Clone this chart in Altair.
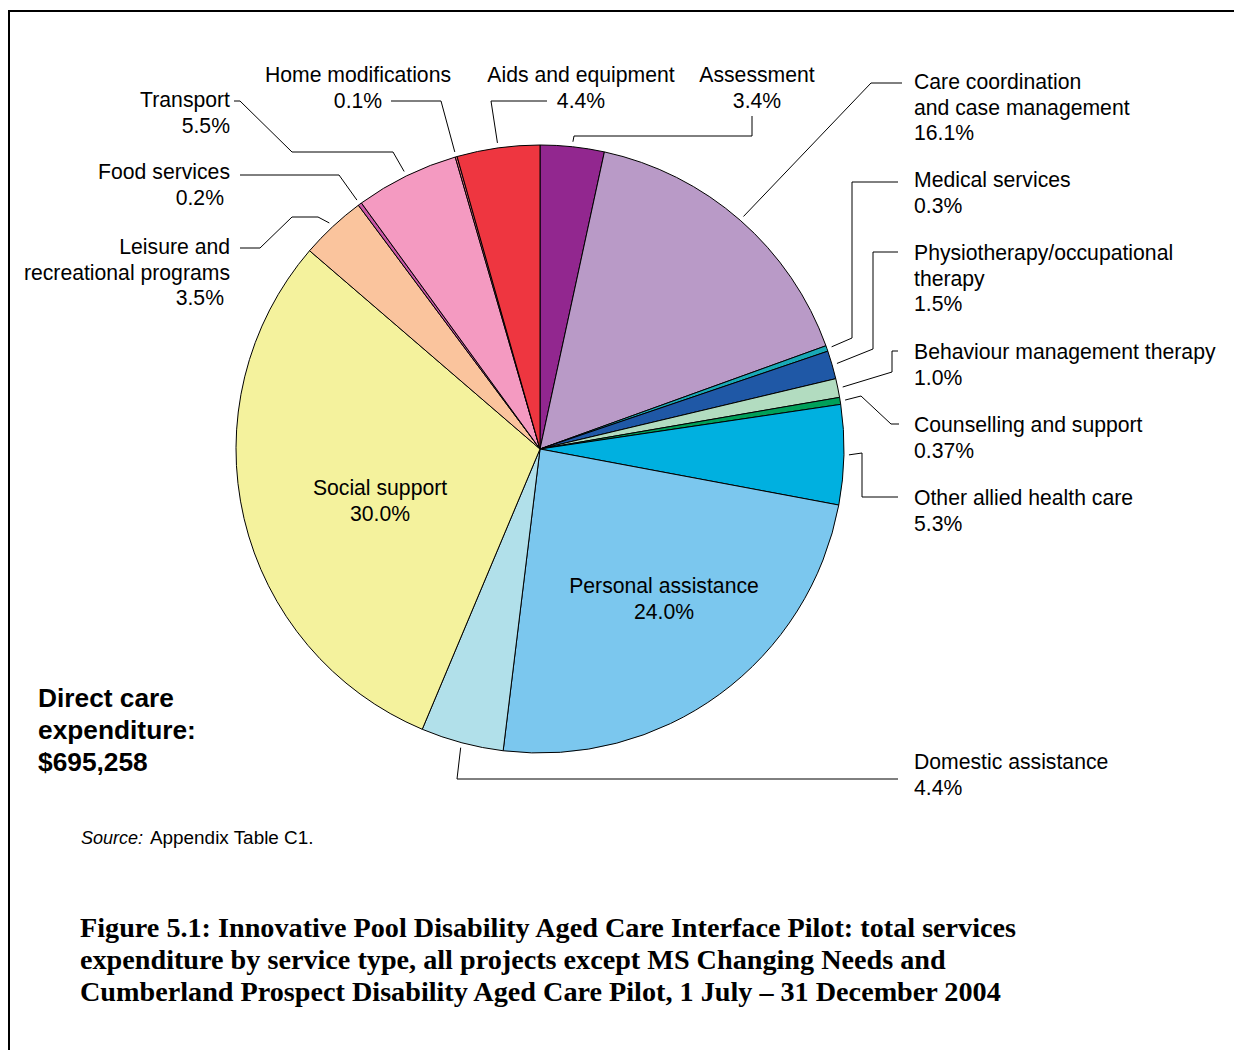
import math
import altair as alt
import pandas as pd

# ---------------- data ----------------
categories = [
    "Assessment",
    "Care coordination and case management",
    "Medical services",
    "Physiotherapy/occupational therapy",
    "Behaviour management therapy",
    "Counselling and support",
    "Other allied health care",
    "Personal assistance",
    "Domestic assistance",
    "Social support",
    "Leisure and recreational programs",
    "Food services",
    "Transport",
    "Home modifications",
    "Aids and equipment",
]
shares = [3.4, 16.1, 0.3, 1.5, 1.0, 0.37, 5.3, 24.0, 4.4, 30.0, 3.5, 0.2, 5.5, 0.1, 4.4]
share_labels = ["3.4%", "16.1%", "0.3%", "1.5%", "1.0%", "0.37%", "5.3%", "24.0%",
                "4.4%", "30.0%", "3.5%", "0.2%", "5.5%", "0.1%", "4.4%"]
colors = ["#92278F", "#B99AC7", "#19A9B6", "#1F58A6", "#B2DCC0", "#00A05A", "#00B0E0",
          "#7BC7EE", "#B1E0EA", "#F4F29D", "#FAC49D", "#C855A5", "#F49AC1", "#F06A80", "#EE3640"]

total_text = ["Direct care", "expenditure:", "$695,258"]
source_italic = "Source:"
source_text = "Appendix Table C1."
caption_lines = [
    "Figure 5.1: Innovative Pool Disability Aged Care Interface Pilot: total services",
    "expenditure by service type, all projects except MS Changing Needs and",
    "Cumberland Prospect Disability Aged Care Pilot, 1 July \u2013 31 December 2004",
]

# ---------------- layout ----------------
W, H = 1234, 1050
CX, CY, R = 540, 449, 304
LEADER_R = 309
FONT = "Liberation Sans"
FS = 21.2
LH = 25.5

# label layout: category -> (name lines, x, first baseline, align, pct x offset)
label_layout = {
    "Assessment": (["Assessment"], 757, 82, "center", 0),
    "Care coordination and case management": (["Care coordination", "and case management"], 914, 89, "left", 0),
    "Medical services": (["Medical services"], 914, 187, "left", 0),
    "Physiotherapy/occupational therapy": (["Physiotherapy/occupational", "therapy"], 914, 260, "left", 0),
    "Behaviour management therapy": (["Behaviour management therapy"], 914, 359, "left", 0),
    "Counselling and support": (["Counselling and support"], 914, 432, "left", 0),
    "Other allied health care": (["Other allied health care"], 914, 505, "left", 0),
    "Personal assistance": (["Personal assistance"], 664, 593, "center", 0),
    "Domestic assistance": (["Domestic assistance"], 914, 769, "left", 0),
    "Social support": (["Social support"], 380, 495, "center", 0),
    "Leisure and recreational programs": (["Leisure and", "recreational programs"], 230, 254, "right", -6),
    "Food services": (["Food services"], 230, 179, "right", -6),
    "Transport": (["Transport"], 230, 107, "right", 0),
    "Home modifications": (["Home modifications"], 358, 82, "center", 0),
    "Aids and equipment": (["Aids and equipment"], 581, 82, "center", 0),
}

# leader elbows (label end first); the pie end is computed from the slice angle
leader_layout = {
    "Assessment": [(752, 116), (752, 136), (574, 136)],
    "Care coordination and case management": [(902, 83), (871, 83)],
    "Medical services": [(898, 182), (852, 182), (852, 338)],
    "Physiotherapy/occupational therapy": [(898, 252), (873, 252), (873, 349)],
    "Behaviour management therapy": [(898, 351), (892, 351), (892, 372)],
    "Counselling and support": [(899, 424), (891, 424), (861, 396)],
    "Other allied health care": [(898, 497), (862, 497), (862, 453)],
    "Domestic assistance": [(898, 779), (457, 779)],
    "Leisure and recreational programs": [(240, 248), (260, 248), (292, 217), (318, 217)],
    "Food services": [(240, 175), (339, 175)],
    "Transport": [(234, 101), (240, 101), (292, 152), (393, 152)],
    "Home modifications": [(391, 101), (441, 101)],
    "Aids and equipment": [(547, 101), (491, 101)],
}

# ---------------- tables ----------------
total = sum(shares)
mid_angle = {}
cum = 0.0
for c, s in zip(categories, shares):
    mid_angle[c] = (cum + s / 2) / total * 2 * math.pi
    cum += s

pie_df = pd.DataFrame({"category": categories, "share": shares, "order": list(range(len(categories)))})

leader_rows = []
for c, pts in leader_layout.items():
    a = mid_angle[c]
    anchor = (CX + LEADER_R * math.sin(a), CY - LEADER_R * math.cos(a))
    for i, (x, y) in enumerate(pts + [anchor]):
        leader_rows.append({"key": c, "idx": i, "x": x, "y": y})
leader_df = pd.DataFrame(leader_rows)

text_rows = []
for c, lab in zip(categories, share_labels):
    lines, x, y0, align, pdx = label_layout[c]
    for i, ln in enumerate(lines):
        text_rows.append({"t": ln, "x": x, "y": y0 + i * LH, "align": align})
    text_rows.append({"t": lab, "x": x + pdx, "y": y0 + len(lines) * LH, "align": align})
text_df = pd.DataFrame(text_rows)

xs = alt.X("x:Q", scale=alt.Scale(domain=[0, W], nice=False, zero=False), axis=None)
ys = alt.Y("y:Q", scale=alt.Scale(domain=[0, H], nice=False, zero=False, reverse=True), axis=None)

pie = alt.Chart(pie_df).mark_arc(outerRadius=R, stroke="black", strokeWidth=1).encode(
    theta=alt.Theta("share:Q", stack=True),
    color=alt.Color("category:N", scale=alt.Scale(domain=categories, range=colors), legend=None),
    order=alt.Order("order:Q", sort="ascending"),
    x=alt.value(CX),
    y=alt.value(CY),
)

leaders = alt.Chart(leader_df).mark_line(color="black", strokeWidth=1).encode(
    x=xs, y=ys, detail="key:N", order="idx:Q"
)

text_layers = []
for al in ["left", "center", "right"]:
    sub = text_df[text_df["align"] == al]
    text_layers.append(
        alt.Chart(sub).mark_text(align=al, baseline="alphabetic", font=FONT, fontSize=FS, color="black")
        .encode(x=xs, y=ys, text="t:N")
    )

total_df = pd.DataFrame({"t": total_text, "x": [38] * 3, "y": [707, 739, 771]})
total_layer = alt.Chart(total_df).mark_text(
    align="left", baseline="alphabetic", font=FONT, fontSize=26.3, fontWeight="bold", color="black"
).encode(x=xs, y=ys, text="t:N")

src_i = alt.Chart(pd.DataFrame({"t": [source_italic], "x": [81], "y": [844]})).mark_text(
    align="left", baseline="alphabetic", font=FONT, fontSize=18, fontStyle="italic", color="black"
).encode(x=xs, y=ys, text="t:N")
src_r = alt.Chart(pd.DataFrame({"t": [source_text], "x": [150], "y": [844]})).mark_text(
    align="left", baseline="alphabetic", font=FONT, fontSize=18.9, color="black"
).encode(x=xs, y=ys, text="t:N")

cap_df = pd.DataFrame({"t": caption_lines, "x": [80] * 3, "y": [937, 969, 1001]})
caption = alt.Chart(cap_df).mark_text(
    align="left", baseline="alphabetic", font="Liberation Serif", fontSize=28.2, fontWeight="bold", color="black"
).encode(x=xs, y=ys, text="t:N")

one = pd.DataFrame({"a": [0]})
frame_top = alt.Chart(one).mark_rule(color="black", strokeWidth=2).encode(
    x=alt.value(8), x2=alt.value(W), y=alt.value(11)
)
frame_left = alt.Chart(one).mark_rule(color="black", strokeWidth=2).encode(
    x=alt.value(9), y=alt.value(10), y2=alt.value(H)
)

chart = alt.layer(
    pie, leaders, *text_layers, total_layer, src_i, src_r, caption, frame_top, frame_left
).properties(
    width=W, height=H, padding=0, autosize=alt.AutoSizeParams(type="none"), background="white"
).configure_view(stroke=None)

chart.save("out.html", embed_options={"renderer": "svg", "actions": False})
